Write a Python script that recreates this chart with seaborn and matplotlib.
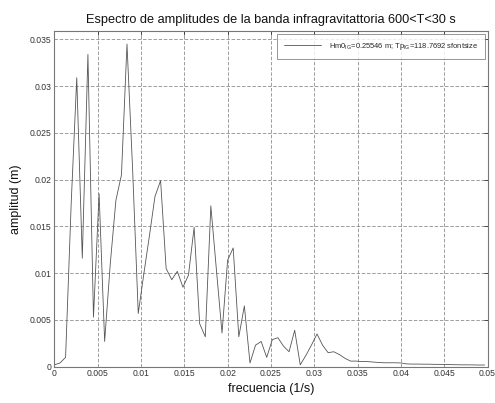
import matplotlib
matplotlib.use("Agg")
import matplotlib.pyplot as plt
import seaborn as sns
import pandas as pd

# frequency (1/s) and amplitude (m)
frecuencia = [
    0.0, 0.000645, 0.00129, 0.00194, 0.00258, 0.00322, 0.00387, 0.00451,
    0.00516, 0.00580, 0.00645, 0.00710, 0.00774, 0.00838, 0.00903, 0.00968,
    0.01032, 0.01097, 0.01161, 0.01226, 0.01290, 0.01355, 0.01419, 0.01484,
    0.01548, 0.01613, 0.01677, 0.01742, 0.01806, 0.01870, 0.01935, 0.02000,
    0.02064, 0.02129, 0.02193, 0.02258, 0.02322, 0.02387, 0.02451, 0.02516,
    0.02580, 0.02645, 0.02709, 0.02774, 0.02838, 0.02903, 0.02967, 0.03032,
    0.03096, 0.03160, 0.03225, 0.03290, 0.03354, 0.03419, 0.03483, 0.03548,
    0.03612, 0.03677, 0.03741, 0.03806, 0.03870, 0.03935, 0.04000, 0.04064,
    0.04128, 0.04193, 0.04257, 0.04322, 0.04386, 0.04451, 0.04515, 0.04580,
    0.04644, 0.04709, 0.04773, 0.04838, 0.04902, 0.04967,
]
amplitud = [
    0.0002, 0.0004, 0.0010, 0.0175, 0.0309, 0.0116, 0.0334, 0.0053,
    0.0185, 0.0027, 0.0110, 0.0178, 0.0205, 0.0345, 0.0211, 0.0057,
    0.0099, 0.0140, 0.0182, 0.0199, 0.0105, 0.0093, 0.0102, 0.0085,
    0.0098, 0.0149, 0.0046, 0.0032, 0.0172, 0.0104, 0.0036, 0.0114,
    0.0127, 0.0032, 0.0065, 0.0004, 0.0023, 0.0027, 0.0010, 0.0029,
    0.0031, 0.0022, 0.0016, 0.0039, 0.0002, 0.0012, 0.0023, 0.0035,
    0.0023, 0.0015, 0.0016, 0.0013, 0.0009, 0.0006, 0.0006, 0.00055,
    0.00055, 0.0005, 0.00045, 0.00042, 0.00042, 0.00042, 0.00040, 0.00030,
    0.00028, 0.00028, 0.00027, 0.00027, 0.00025, 0.00025, 0.00024, 0.00022,
    0.00021, 0.00020, 0.00020, 0.00019, 0.00018, 0.00018,
]
xticks = [0, 0.005, 0.01, 0.015, 0.02, 0.025, 0.03, 0.035, 0.04, 0.045, 0.05]
xtick_labels = ["0", "0.005", "0.01", "0.015", "0.02", "0.025", "0.03", "0.035", "0.04", "0.045", "0.05"]
yticks = [0, 0.005, 0.01, 0.015, 0.02, 0.025, 0.03, 0.035]
ytick_labels = ["0", "0.005", "0.01", "0.015", "0.02", "0.025", "0.03", "0.035"]
leyenda = r"Hm0$_{\mathregular{IG}}$=0.25546 m; Tp$_{\mathregular{IG}}$=118.7692 sfontsize"

sns.set_style("white")
plt.rcParams["font.family"] = ["Liberation Sans", "DejaVu Sans"]
plt.rcParams["mathtext.fontset"] = "custom"
plt.rcParams["mathtext.rm"] = "Liberation Sans"

df = pd.DataFrame({"f": frecuencia, "a": amplitud})

fig = plt.figure(figsize=(4.95, 4.03), dpi=100)
ax = fig.add_axes([54.4 / 495, 1 - 366.7 / 403, (487.5 - 54.4) / 495, (366.7 - 31) / 403])

sns.lineplot(data=df, x="f", y="a", ax=ax, color="#555555", linewidth=0.6, label=leyenda)

ax.set_xlim(0, 0.05)
ax.set_ylim(0, 0.0359)
ax.set_xticks(xticks)
ax.set_xticklabels(xtick_labels)
ax.set_yticks(yticks)
ax.set_yticklabels(ytick_labels)
ax.tick_params(direction="in", length=3, width=0.6, labelsize=6.2, colors="#333333",
               top=True, right=True, pad=2)
ax.grid(True, linestyle=(0, (5, 2.5)), color="#777777", linewidth=0.5)
for s in ax.spines.values():
    s.set_color("#777777")
    s.set_linewidth(0.8)

ax.set_title("Espectro de amplitudes de la banda infragravitattoria 600<T<30 s",
             fontsize=9.2, pad=6, color="#111111")
ax.set_xlabel("frecuencia (1/s)", fontsize=9, labelpad=3, color="#111111")
ax.set_ylabel("amplitud (m)", fontsize=9, labelpad=6, color="#111111")

leg = ax.legend(loc="upper right", fontsize=5.4, frameon=True, fancybox=False,
                borderpad=0.9, handlelength=5.0, handletextpad=1.0,
                borderaxespad=0.4, edgecolor="#666666")
leg.get_frame().set_linewidth(0.6)

fig.savefig("out.png", dpi=100)
